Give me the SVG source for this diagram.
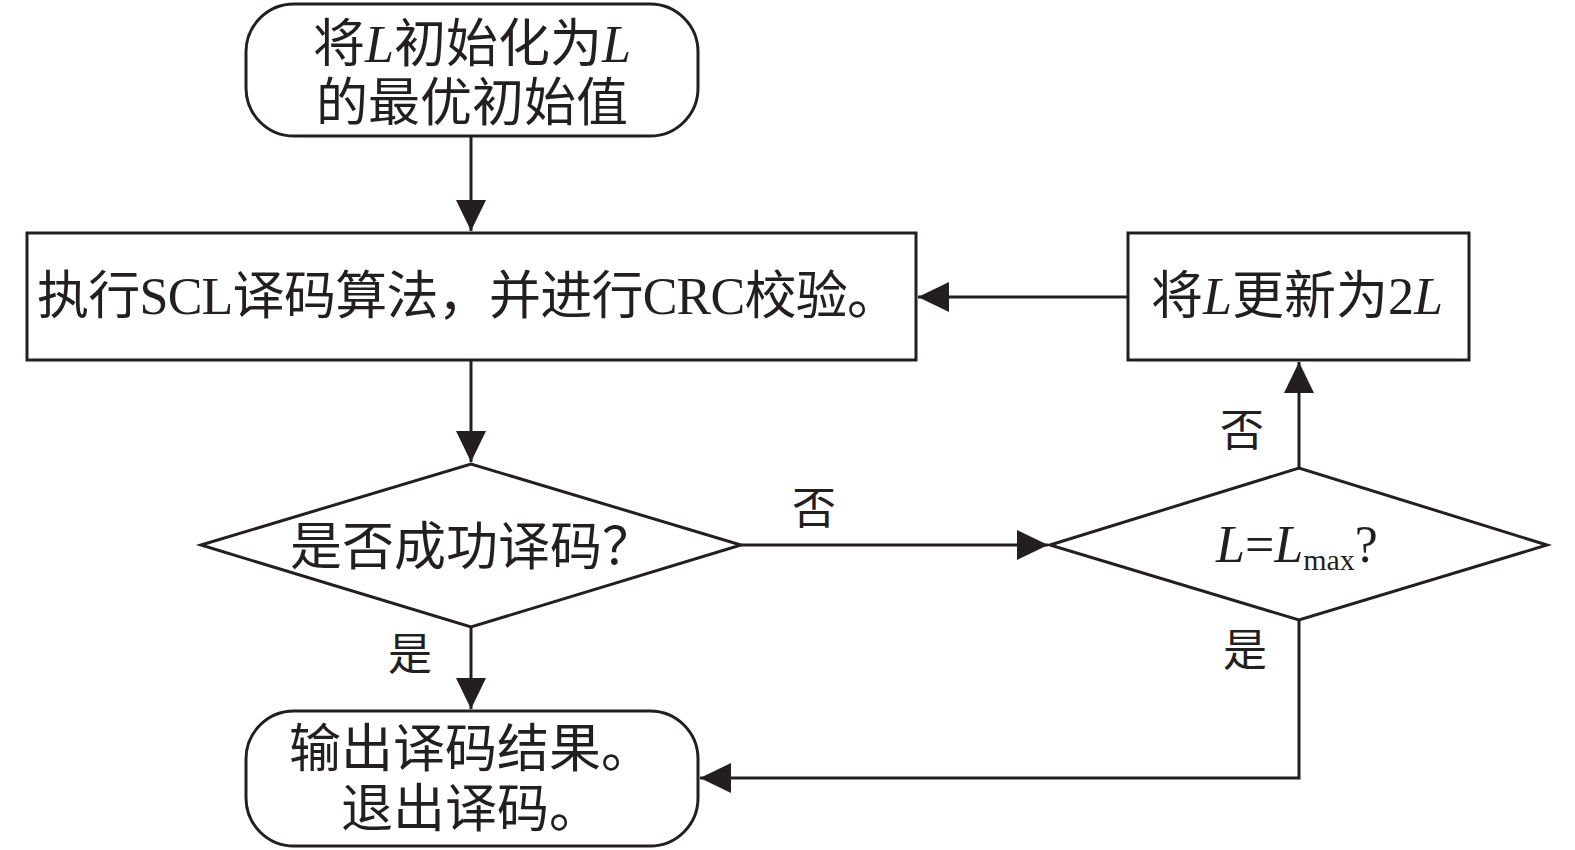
<svg xmlns="http://www.w3.org/2000/svg" width="1575" height="850" viewBox="0 0 1575 850">
<style>
.s{fill:#fff;stroke:#231f20;stroke-width:3}
.t{font-family:"Liberation Serif","Noto Sans CJK SC",serif;font-size:52px;fill:#231f20;text-anchor:middle}
.l{font-family:"Liberation Serif","Noto Sans CJK SC",serif;font-size:44px;fill:#231f20;text-anchor:middle}
.c{fill:none;stroke:#231f20;stroke-width:3}
</style>
<defs>
<marker id="a" markerUnits="userSpaceOnUse" markerWidth="34" markerHeight="34" viewBox="0 0 34 34" refX="32" refY="17" orient="auto">
<path d="M1,2 L32,17 L1,32 Z" fill="#231f20"/>
</marker>
</defs>
<g id="connectors">
<path class="c" d="M471,136 V231" marker-end="url(#a)"/>
<path class="c" d="M471,360 V462" marker-end="url(#a)"/>
<path class="c" d="M741,545 H1048" marker-end="url(#a)"/>
<path class="c" d="M1299,468 V362" marker-end="url(#a)"/>
<path class="c" d="M1128,297 H918" marker-end="url(#a)"/>
<path class="c" d="M471,627 V709" marker-end="url(#a)"/>
<path class="c" d="M1299,620 V778 H700" marker-end="url(#a)"/>
<text class="l" x="814" y="524">否</text>
<text class="l" x="1242" y="446">否</text>
<text class="l" x="1245" y="666">是</text>
<text class="l" x="410" y="670">是</text>
</g>
<g id="start">
<rect class="s" x="246" y="4" width="452" height="132" rx="48"/>
<text class="t" x="472" y="62">将<tspan font-style="italic">L</tspan>初始化为<tspan font-style="italic">L</tspan></text>
<text class="t" x="472" y="121">的最优初始值</text>
</g>
<g id="scl">
<rect class="s" x="27" y="233" width="889" height="127"/>
<text class="t" x="468" y="314" textLength="862">执行SCL译码算法，并进行CRC校验。</text>
</g>
<g id="update">
<rect class="s" x="1128" y="233" width="341" height="127"/>
<text class="t" x="1297" y="314">将<tspan font-style="italic">L</tspan>更新为2<tspan font-style="italic">L</tspan></text>
</g>
<g id="check">
<polygon class="s" points="201,545 471,464 741,545 471,627"/>
<text class="t" x="472" y="565">是否成功译码？</text>
</g>
<g id="lmax">
<polygon class="s" points="1050,545 1299,468 1547,545 1299,620"/>
<text class="t" x="1297" y="562" font-size="50"><tspan font-style="italic">L</tspan>=<tspan font-style="italic">L</tspan><tspan font-size="30" dy="8">max</tspan><tspan dy="-8">?</tspan></text>
</g>
<g id="output">
<rect class="s" x="246" y="711" width="452" height="135" rx="48"/>
<text class="t" x="471" y="767">输出译码结果。</text>
<text class="t" x="471" y="827">退出译码。</text>
</g>
</svg>
